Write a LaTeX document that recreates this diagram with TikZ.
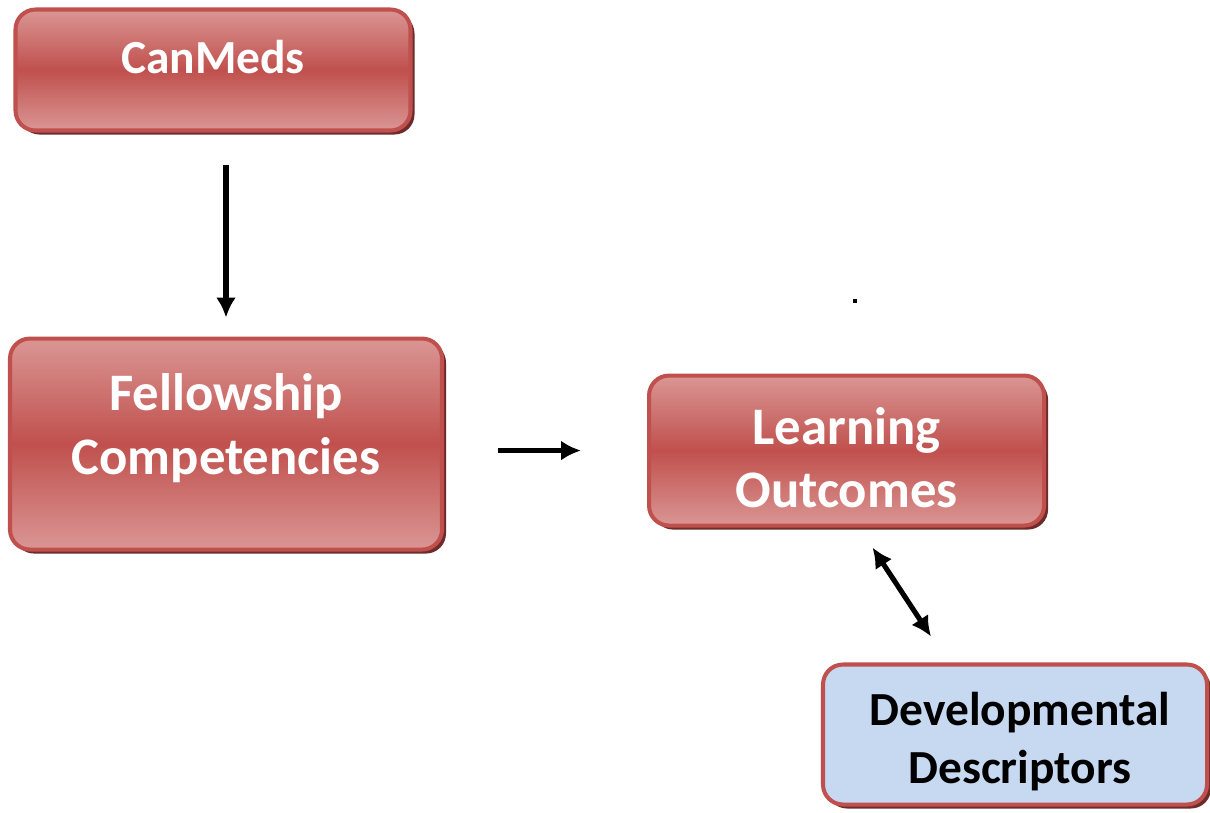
\documentclass[tikz,border=0pt]{standalone}
\usepackage{fontspec}
\setmainfont{Carlito}
\usetikzlibrary{arrows.meta,positioning,shadows}
\definecolor{redbd}{HTML}{C0504D}
\definecolor{redlt}{HTML}{DA9694}
\definecolor{redsh}{HTML}{6E2B2A}
\definecolor{bluefl}{HTML}{C6D9F1}
\tikzset{
  box/.style={draw=redbd,line width=2.3pt,rounded corners=4mm,inner sep=0pt,
    drop shadow={shadow xshift=0.8mm,shadow yshift=-0.8mm,fill=redsh,opacity=1}},
  redbox/.style={box,top color=redlt,bottom color=redlt,middle color=redbd},
  bluebox/.style={box,fill=bluefl},
  lbl/.style={align=center,font=\bfseries\fontsize{27}{33}\selectfont},
  biglbl/.style={align=center,font=\bfseries\fontsize{30}{36}\selectfont},
  arr/.style={line width=2.9pt,-{Latex[length=4mm,width=4mm]}},
  dblarr/.style={line width=2.9pt,{Latex[length=4mm,width=4mm]}-{Latex[length=4mm,width=4mm]}},
}

\begin{document}
\begin{tikzpicture}
  \useasboundingbox (0,0) rectangle (24.2,-16.24);
  % boxes
  \node[redbox,minimum width=7.9cm,minimum height=2.42cm] (canmeds) at (4.26,-1.40) {};
  \node[redbox,minimum width=8.64cm,minimum height=4.22cm,below=4.08cm of canmeds,xshift=0.26cm] (fellow) {};
  \node[redbox,minimum width=7.9cm,minimum height=3.0cm,right=4.06cm of fellow,yshift=-0.13cm] (learn) {};
  \node[bluebox,minimum width=7.68cm,minimum height=2.8cm] (descr) at (20.3,-14.69) {};
  % texts
  \node[lbl,text=white] (canmeds-t) at ([yshift=0.26cm]canmeds.center) {CanMeds};
  \node[biglbl,text=white] (fellow-t) at ([yshift=0.32cm]fellow.center) {Fellowship\\Competencies};
  \node[biglbl,text=white] (learn-t) at ([yshift=-0.14cm]learn.center) {Learning\\Outcomes};
  \node[lbl] (descr-t) at ([xshift=0.1cm,yshift=-0.14cm]descr.center) {Developmental\\Descriptors};
  \node[fill,inner sep=0pt,minimum size=0.07cm] (pt) at (17.1,-6.02) {};
  % arrows
  \draw[arr,shorten <=0.64cm,shorten >=0.38cm] (canmeds.south -| fellow.north) -- (fellow.north);
  \draw[arr,shorten <=1.08cm,shorten >=1.32cm] (fellow.east |- learn.west) -- (learn.west);
  \draw[dblarr] ([xshift=0.52cm,yshift=-0.4cm]learn.south) -- ([xshift=-1.68cm,yshift=0.52cm]descr.north);
\end{tikzpicture}
\end{document}
